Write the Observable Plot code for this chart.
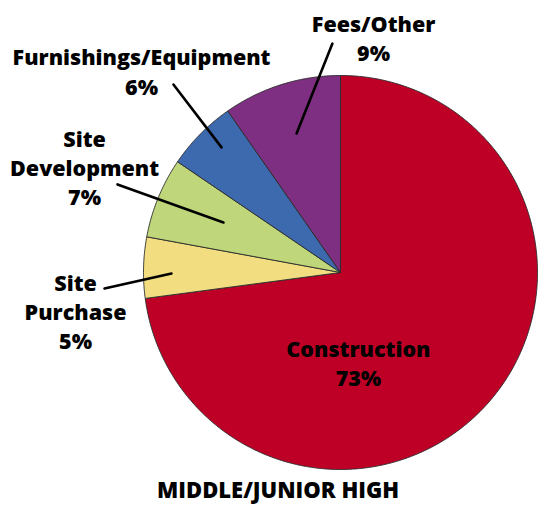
<!DOCTYPE html>
<html>
<head>
<meta charset="utf-8">
<script src="https://cdn.jsdelivr.net/npm/d3@7"></script>
<script src="https://cdn.jsdelivr.net/npm/@observablehq/plot@0.6"></script>
<style>
  html, body { margin: 0; padding: 0; background: #fff; }
  #chart svg { display: block; }
</style>
</head>
<body>
<div id="chart"></div>
<script>
// ---- data ----
const categories = ["Construction", "Site Purchase", "Site Development", "Furnishings/Equipment", "Fees/Other"];
const values = [72.9, 5.0, 6.6, 5.8, 9.7];           // slice sizes
const pctLabels = ["73%", "5%", "7%", "6%", "9%"];   // printed labels
const labelNames = ["Construction", "Site\nPurchase", "Site\nDevelopment", "Furnishings/Equipment", "Fees/Other"];
const colors = ["#BE0027", "#F2DE80", "#BFD77A", "#3D6AAE", "#7E2F81"];
const chartTitle = "MIDDLE/JUNIOR HIGH";

// ---- layout (in pie-radius units, centre = 0,0) ----
const labelPos = [[0.091, -0.457], [-1.345, -0.193], [-1.299, 0.538], [-1.010, 1.025], [0.168, 1.195]];
const leaderLines = [null,
  [[-1.198, -0.081], [-0.858, -0.005]],
  [[-1.132, 0.447], [-0.594, 0.254]],
  [[-0.848, 0.954], [-0.604, 0.635]],
  [[-0.041, 1.162], [-0.223, 0.706]]];

// ---- build slice polygons (clockwise from 12 o'clock) ----
const total = d3.sum(values);
const slicePts = [];
let acc = 0;
categories.forEach((c, i) => {
  const a0 = acc / total * 2 * Math.PI;
  acc += values[i];
  const a1 = acc / total * 2 * Math.PI;
  slicePts.push({cat: c, x: 0, y: 0});
  const n = Math.max(2, Math.ceil((a1 - a0) / (Math.PI / 360)));
  for (let k = 0; k <= n; k++) {
    const a = a0 + (a1 - a0) * k / n;
    slicePts.push({cat: c, x: Math.sin(a), y: Math.cos(a)});
  }
  slicePts.push({cat: c, x: 0, y: 0});
});

const labels = categories.map((c, i) => ({
  x: labelPos[i][0], y: labelPos[i][1], text: labelNames[i] + "\n" + pctLabels[i]
}));
const leaders = [];
leaderLines.forEach((l, i) => {
  if (!l) return;
  l.forEach(p => leaders.push({cat: categories[i], x: p[0], y: p[1]}));
});

const R = 197, cx = 340, cy = 272;
const chart = Plot.plot({
  width: 541,
  height: 505,
  margin: 0,
  style: {fontFamily: "'Open Sans', sans-serif", background: "#fff"},
  x: {domain: [-1, 1], range: [cx - R, cx + R], axis: null},
  y: {domain: [-1, 1], range: [cy + R, cy - R], axis: null},
  color: {domain: categories, range: colors},
  marks: [
    Plot.line(slicePts, {x: "x", y: "y", z: "cat", fill: "cat", stroke: "#2a2a2a", strokeWidth: 0.9, strokeLinejoin: "round"}),
    Plot.line(leaders, {x: "x", y: "y", z: "cat", stroke: "#000", strokeWidth: 2.6}),
    Plot.text(labels, {x: "x", y: "y", text: "text", fontSize: 21.5, fontWeight: 800, lineHeight: 1.36, fill: "#000", textAnchor: "middle", lineAnchor: "middle"}),
    Plot.text([chartTitle], {x: -0.317, y: -1.11, text: d => d, fontSize: 22, fontWeight: 800, fill: "#000", textAnchor: "middle", lineAnchor: "middle"})
  ]
});
document.getElementById("chart").appendChild(chart);
</script>
</body>
</html>
